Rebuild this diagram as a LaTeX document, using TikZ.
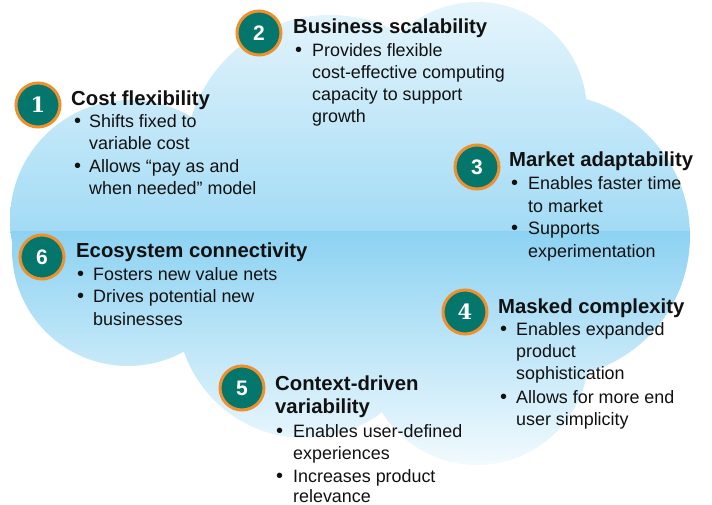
\documentclass[tikz,border=0pt]{standalone}
\usepackage{fontspec}
\setmainfont{Liberation Sans}
\newfontfamily\numserif{DejaVu Serif}
\definecolor{txt}{HTML}{111111}
\definecolor{tealn}{HTML}{05766B}
\definecolor{orng}{HTML}{EE912C}
\definecolor{cA}{HTML}{E6F5FC}
\definecolor{cB}{HTML}{A2DBF5}
\definecolor{cC}{HTML}{8DD2F2}
\definecolor{cD}{HTML}{F4FBFE}
\begin{document}
\begin{tikzpicture}[x=1pt,y=-1pt,
  ttl/.style={anchor=base west, inner sep=0pt, text=txt, font=\fontsize{20.3}{24}\selectfont\bfseries},
  bodytxt/.style={anchor=base west, inner sep=0pt, text=txt, font=\fontsize{17.9}{22}\selectfont},
  bul/.style={anchor=base west, inner sep=0pt, text=txt, font=\fontsize{20}{22}\selectfont},
  num/.style={circle, fill=tealn, draw=orng, line width=3pt, minimum size=44pt, inner sep=0pt, text=white, font=\fontsize{21}{21}\selectfont\bfseries}]
\path[use as bounding box] (0,0) rectangle (712,505);
% cloud
\begin{scope}
\clip (130,220) circle (120pt) (128,250) circle (116pt) (330,160) circle (145pt)
      (477,112) circle (110pt) (548,236) circle (142pt) (477,353) circle (112pt)
      (305,310) circle (128pt) (350,240) ellipse (220pt and 110pt);
\shade[top color=cA, bottom color=cB] (0,0) rectangle (712,232);
\shade[top color=cC, bottom color=cD] (0,232) rectangle (712,470);
\end{scope}
% block 1
\node[num] (n1) at (38,105) {\numserif 1};
\node[ttl] (t1) at (71,106) {Cost flexibility};
\node[bul] (b1a) at (74,128) {•};
\node[bodytxt] (l1a) at (89,128) {Shifts fixed to};
\node[bodytxt] (l1b) at (89,150) {variable cost};
\node[bul] (b1b) at (74,173) {•};
\node[bodytxt] (l1c) at (89,173) {Allows “pay as and};
\node[bodytxt] (l1d) at (89,195) {when needed” model};
% block 2
\node[num] (n2) at (259,33) {2};
\node[ttl] (t2) at (293,34) {Business scalability};
\node[bul] (b2a) at (295,57) {•};
\node[bodytxt] (l2a) at (312,57) {Provides flexible};
\node[bodytxt] (l2b) at (312,79) {cost-effective computing};
\node[bodytxt] (l2c) at (312,101) {capacity to support};
\node[bodytxt] (l2d) at (312,123) {growth};
% block 3
\node[num] (n3) at (477,167) {3};
\node[ttl] (t3) at (509,167) {Market adaptability};
\node[bul] (b3a) at (511,190) {•};
\node[bodytxt] (l3a) at (528,190) {Enables faster time};
\node[bodytxt] (l3b) at (528,212) {to market};
\node[bul] (b3b) at (511,235) {•};
\node[bodytxt] (l3c) at (528,235) {Supports};
\node[bodytxt] (l3d) at (528,257) {experimentation};
% block 4
\node[num] (n4) at (465,312) {\numserif 4};
\node[ttl] (t4) at (498,313) {Masked complexity};
\node[bul] (b4a) at (500,335) {•};
\node[bodytxt] (l4a) at (516,335) {Enables expanded};
\node[bodytxt] (l4b) at (516,357) {product};
\node[bodytxt] (l4c) at (516,379) {sophistication};
\node[bul] (b4b) at (500,403) {•};
\node[bodytxt] (l4d) at (516,403) {Allows for more end};
\node[bodytxt] (l4e) at (516,425) {user simplicity};
% block 5
\node[num] (n5) at (242,388) {5};
\node[ttl] (t5a) at (275,390) {Context-driven};
\node[ttl] (t5b) at (275,413) {variability};
\node[bul] (b5a) at (276,437) {•};
\node[bodytxt] (l5a) at (293,437) {Enables user-defined};
\node[bodytxt] (l5b) at (293,459) {experiences};
\node[bul] (b5b) at (276,482) {•};
\node[bodytxt] (l5c) at (293,482) {Increases product};
\node[bodytxt] (l5d) at (293,502) {relevance};
% block 6
\node[num] (n6) at (42,257) {6};
\node[ttl] (t6) at (76,257) {Ecosystem connectivity};
\node[bul] (b6a) at (77,280) {•};
\node[bodytxt] (l6a) at (93,280) {Fosters new value nets};
\node[bul] (b6b) at (77,302) {•};
\node[bodytxt] (l6b) at (93,302) {Drives potential new};
\node[bodytxt] (l6c) at (93,325) {businesses};
\end{tikzpicture}
\end{document}
